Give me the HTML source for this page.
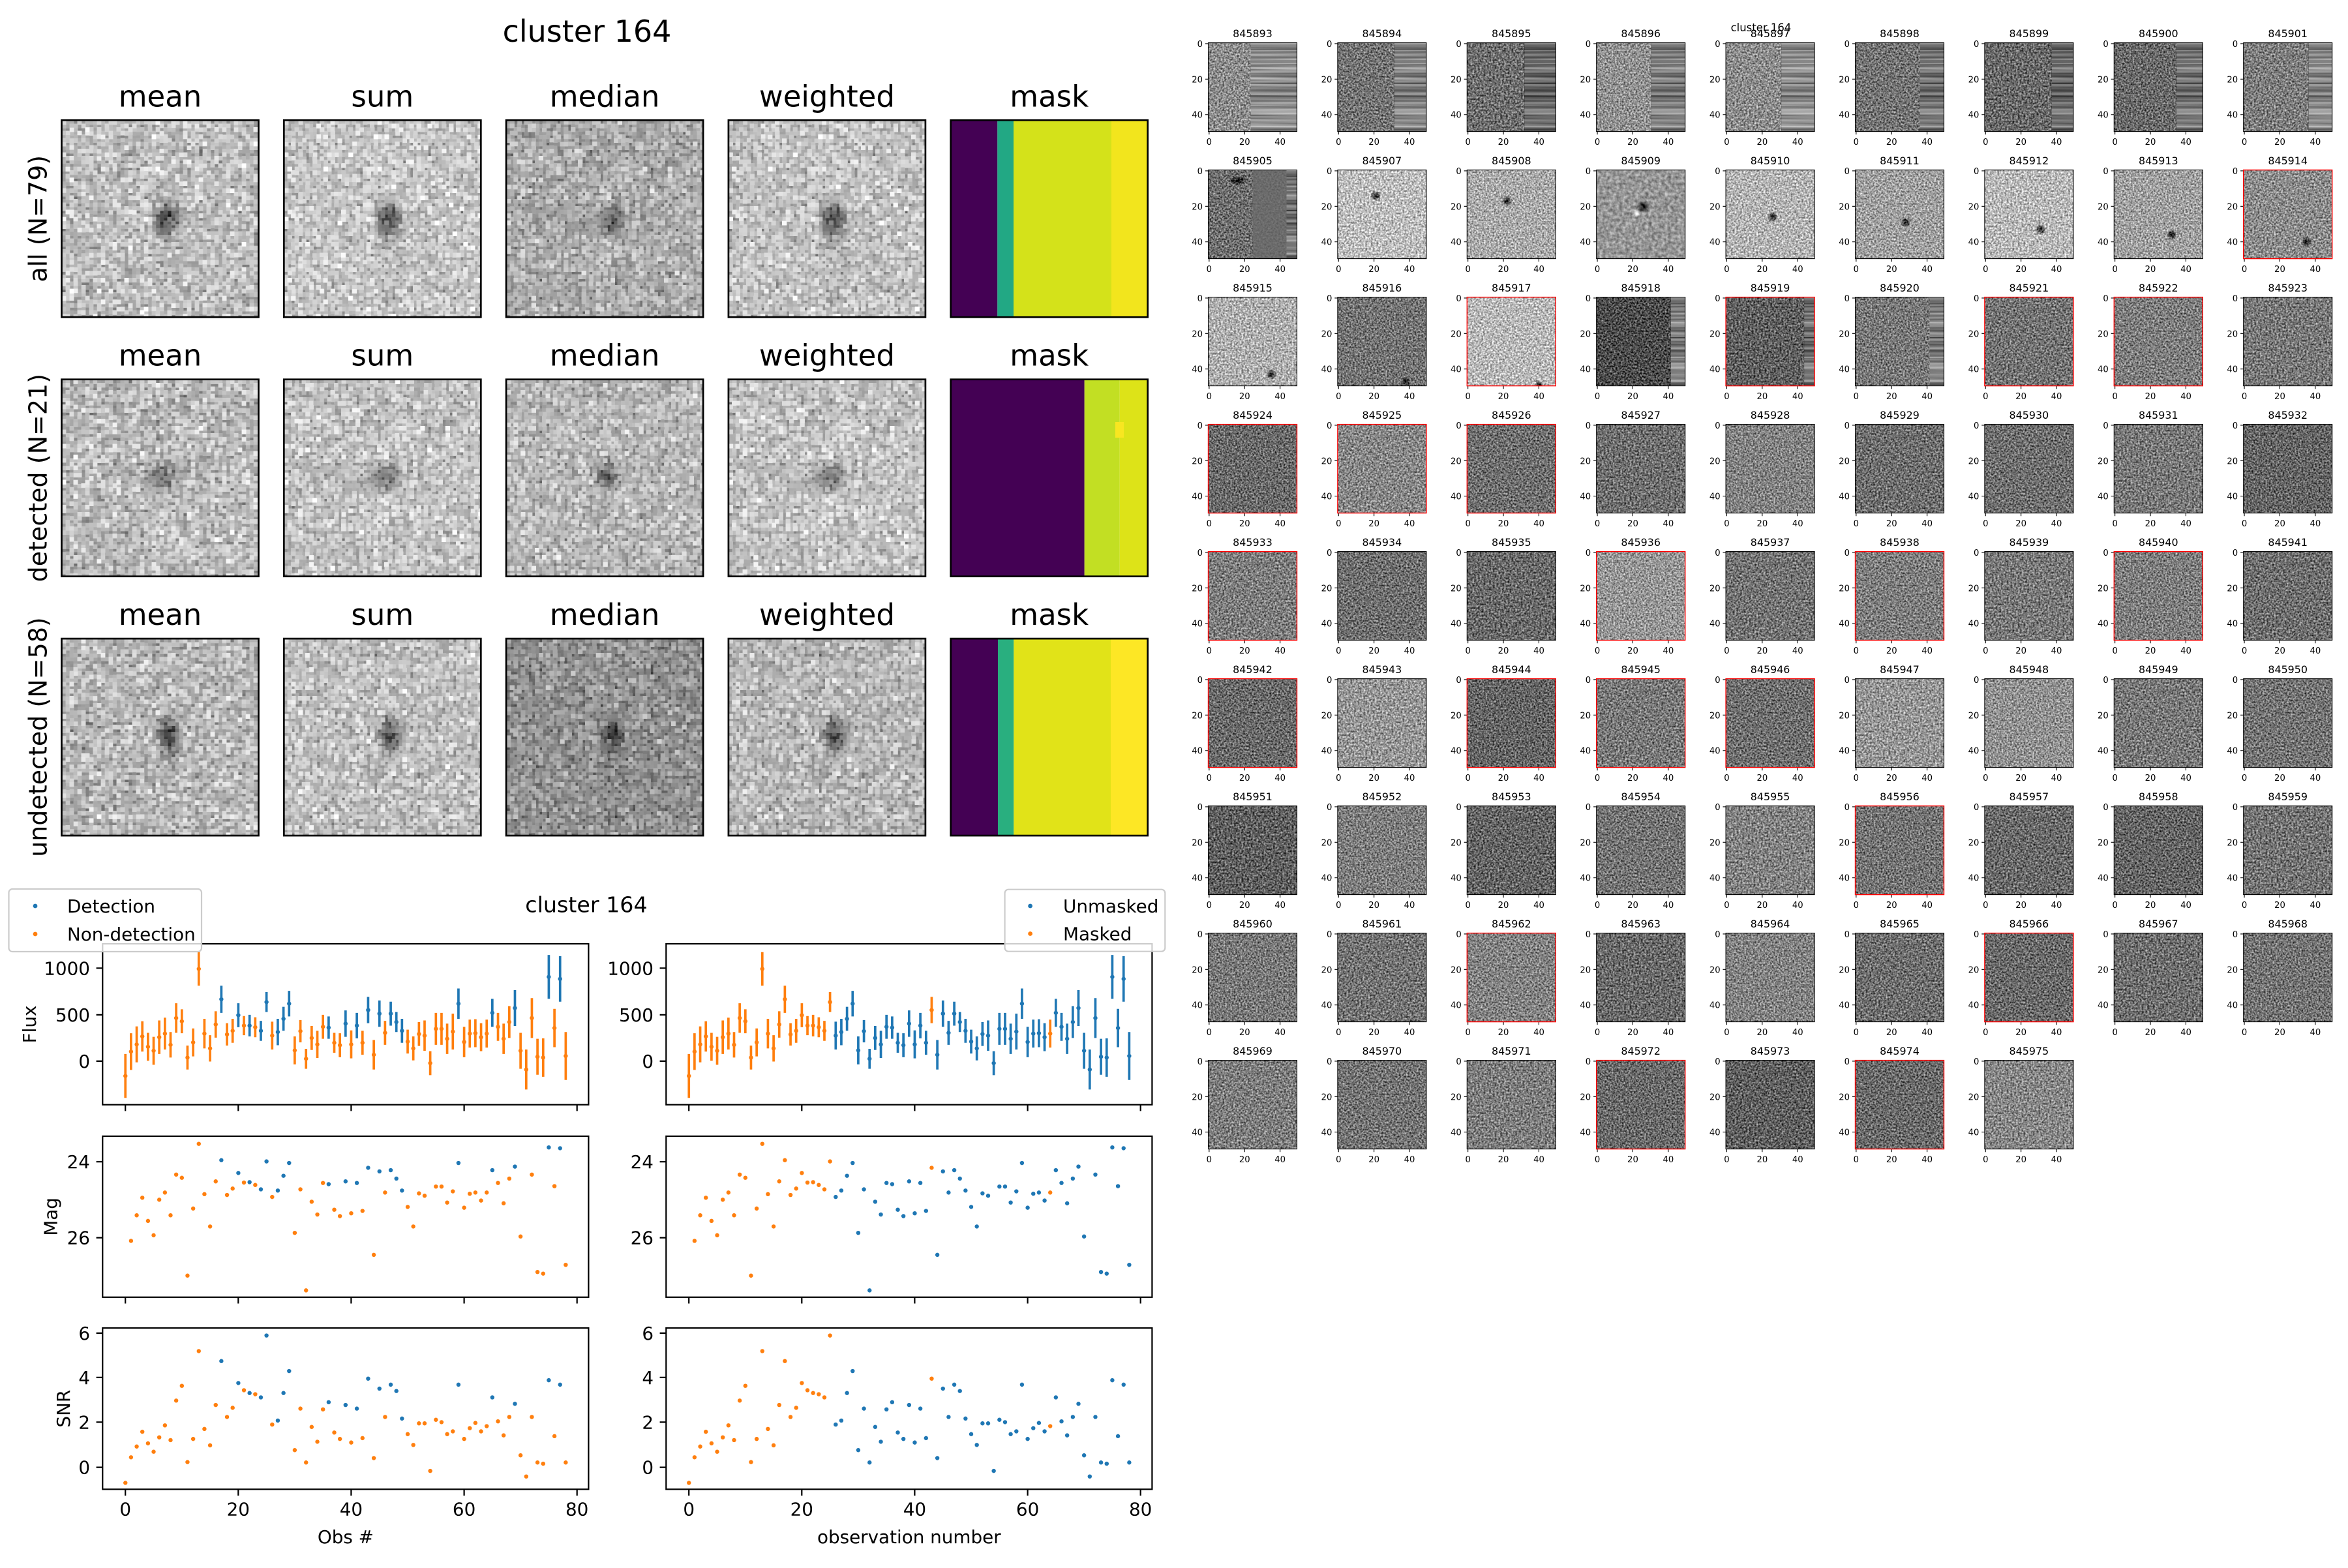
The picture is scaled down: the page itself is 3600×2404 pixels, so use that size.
<!DOCTYPE html>
<html><head><meta charset="utf-8"><style>
html,body{margin:0;padding:0;background:#fff}
svg{display:block}
text{font-family:"DejaVu Sans","Liberation Sans",sans-serif;fill:#000}
.fr{fill:none;stroke:#000;stroke-width:1.1}
.fr.r{stroke:#f00;stroke-width:1.4}
.tt{font-size:15.9px;text-anchor:middle}
.pf{fill:none;stroke:#000;stroke-width:2.7}
.ht{font-size:45px;text-anchor:middle}
.rl{font-size:38px;text-anchor:middle}
.tk{font-size:27.8px}
.dt{stroke-width:10.5;stroke-linecap:round}
.ax{fill:none;stroke:#000;stroke-width:2.2}
</style></head><body>
<svg width="3600" height="2404" viewBox="0 0 3600 2404" xmlns="http://www.w3.org/2000/svg">
<defs>
<radialGradient id="bl"><stop offset="0" stop-color="#000" stop-opacity=".8"/><stop offset=".45" stop-color="#000" stop-opacity=".45"/><stop offset="1" stop-color="#000" stop-opacity="0"/></radialGradient>
<radialGradient id="sp"><stop offset="0" stop-color="#000" stop-opacity=".9"/><stop offset=".6" stop-color="#000" stop-opacity=".5"/><stop offset="1" stop-color="#000" stop-opacity="0"/></radialGradient>
<radialGradient id="wsp"><stop offset="0" stop-color="#fff" stop-opacity=".9"/><stop offset="1" stop-color="#fff" stop-opacity="0"/></radialGradient>
<filter id="t1" filterUnits="userSpaceOnUse" x="0" y="0" width="136" height="136" color-interpolation-filters="sRGB"><feTurbulence type="fractalNoise" baseFrequency="0.36" numOctaves="2" seed="1" result="a"/><feColorMatrix in="a" type="matrix" values="1 0 0 0 0 1 0 0 0 0 1 0 0 0 0 0 0 0 0 1" result="g"/><feComposite in="SourceGraphic" in2="g" operator="arithmetic" k1="0" k2="1" k3="1.05" k4="-0.525"/></filter>
<filter id="t2" filterUnits="userSpaceOnUse" x="0" y="0" width="136" height="136" color-interpolation-filters="sRGB"><feTurbulence type="fractalNoise" baseFrequency="0.37" numOctaves="2" seed="7" result="a"/><feColorMatrix in="a" type="matrix" values="1 0 0 0 0 1 0 0 0 0 1 0 0 0 0 0 0 0 0 1" result="g"/><feComposite in="SourceGraphic" in2="g" operator="arithmetic" k1="0" k2="1" k3="1.05" k4="-0.525"/></filter>
<filter id="t3" filterUnits="userSpaceOnUse" x="0" y="0" width="136" height="136" color-interpolation-filters="sRGB"><feTurbulence type="fractalNoise" baseFrequency="0.35" numOctaves="2" seed="13" result="a"/><feColorMatrix in="a" type="matrix" values="1 0 0 0 0 1 0 0 0 0 1 0 0 0 0 0 0 0 0 1" result="g"/><feComposite in="SourceGraphic" in2="g" operator="arithmetic" k1="0" k2="1" k3="1.05" k4="-0.525"/></filter>
<filter id="t4" filterUnits="userSpaceOnUse" x="0" y="0" width="136" height="136" color-interpolation-filters="sRGB"><feTurbulence type="fractalNoise" baseFrequency="0.38" numOctaves="2" seed="29" result="a"/><feColorMatrix in="a" type="matrix" values="1 0 0 0 0 1 0 0 0 0 1 0 0 0 0 0 0 0 0 1" result="g"/><feComposite in="SourceGraphic" in2="g" operator="arithmetic" k1="0" k2="1" k3="1.05" k4="-0.525"/></filter>
<filter id="ts" filterUnits="userSpaceOnUse" x="0" y="0" width="136" height="136" color-interpolation-filters="sRGB"><feTurbulence type="fractalNoise" baseFrequency="0.2" numOctaves="2" seed="3" result="a"/><feColorMatrix in="a" type="matrix" values="1 0 0 0 0 1 0 0 0 0 1 0 0 0 0 0 0 0 0 1" result="g"/><feComposite in="SourceGraphic" in2="g" operator="arithmetic" k1="0" k2="1" k3="0.6" k4="-0.3"/></filter>
<filter id="st" x="0" y="0" width="1" height="1" color-interpolation-filters="sRGB"><feTurbulence type="fractalNoise" baseFrequency="0.004 0.3" numOctaves="2" seed="5" result="a"/><feColorMatrix in="a" type="matrix" values="1 0 0 0 0 1 0 0 0 0 1 0 0 0 0 0 0 0 0 1" result="g"/><feComposite in="SourceGraphic" in2="g" operator="arithmetic" k1="0" k2="1" k3="0.75" k4="-0.375"/></filter>
<filter id="p1" filterUnits="userSpaceOnUse" primitiveUnits="userSpaceOnUse" x="0" y="0" width="302" height="302" color-interpolation-filters="sRGB"><feTurbulence type="fractalNoise" baseFrequency="0.2873" numOctaves="2" seed="11" result="a"/><feColorMatrix in="a" type="matrix" values="1 0 0 0 0 1 0 0 0 0 1 0 0 0 0 0 0 0 0 1" result="g"/><feComposite in="SourceGraphic" in2="g" operator="arithmetic" k1="0" k2="1" k3="0.95" k4="-0.475" result="n"/><feFlood x="3" y="3" width="1" height="1" flood-color="#000" result="f"/><feComposite in="f" in2="f" x="0" y="0" width="6" height="6" result="c"/><feTile in="c" result="tl"/><feComposite in="n" in2="tl" operator="in" result="s"/><feMorphology in="s" operator="dilate" radius="3"/></filter>
<filter id="p2" filterUnits="userSpaceOnUse" primitiveUnits="userSpaceOnUse" x="0" y="0" width="302" height="302" color-interpolation-filters="sRGB"><feTurbulence type="fractalNoise" baseFrequency="0.2873" numOctaves="2" seed="23" result="a"/><feColorMatrix in="a" type="matrix" values="1 0 0 0 0 1 0 0 0 0 1 0 0 0 0 0 0 0 0 1" result="g"/><feComposite in="SourceGraphic" in2="g" operator="arithmetic" k1="0" k2="1" k3="0.95" k4="-0.475" result="n"/><feFlood x="3" y="3" width="1" height="1" flood-color="#000" result="f"/><feComposite in="f" in2="f" x="0" y="0" width="6" height="6" result="c"/><feTile in="c" result="tl"/><feComposite in="n" in2="tl" operator="in" result="s"/><feMorphology in="s" operator="dilate" radius="3"/></filter>
<filter id="p3" filterUnits="userSpaceOnUse" primitiveUnits="userSpaceOnUse" x="0" y="0" width="302" height="302" color-interpolation-filters="sRGB"><feTurbulence type="fractalNoise" baseFrequency="0.2873" numOctaves="2" seed="41" result="a"/><feColorMatrix in="a" type="matrix" values="1 0 0 0 0 1 0 0 0 0 1 0 0 0 0 0 0 0 0 1" result="g"/><feComposite in="SourceGraphic" in2="g" operator="arithmetic" k1="0" k2="1" k3="0.95" k4="-0.475" result="n"/><feFlood x="3" y="3" width="1" height="1" flood-color="#000" result="f"/><feComposite in="f" in2="f" x="0" y="0" width="6" height="6" result="c"/><feTile in="c" result="tl"/><feComposite in="n" in2="tl" operator="in" result="s"/><feMorphology in="s" operator="dilate" radius="3"/></filter>

<g id="tax">
<path d="M0 1.36h-4.6M0 55.76h-4.6M0 110.16h-4.6M1.36 136v4.6M55.76 136v4.6M110.16 136v4.6" stroke="#000" stroke-width="1.1"/>
<g font-size="13.2" text-anchor="end"><text x="-8.5" y="6.3">0</text><text x="-8.5" y="60.7">20</text><text x="-8.5" y="115.1">40</text></g>
<g font-size="13.2" text-anchor="middle"><text x="1.36" y="156.4">0</text><text x="55.76" y="156.4">20</text><text x="110.16" y="156.4">40</text></g>
</g>

<g id="NM" fill="none">
<path stroke-width="6" d="M314 418V528M328.1 366V458M342.3 349V439M356.4 336V412M370.6 365V435M384.7 375V445M398.8 334V418M413 327V407M427.1 363V427M441.2 291V365M455.4 306V366M469.5 397V457M483.7 354V424M497.8 163V247M511.9 330V404M526.1 371V437M540.2 311V377M568.5 341V397M582.6 330V390M610.9 323V371M639.2 326V376M1218.8 332V402"/>
<path class="dt" d="M314 473h.01M328.1 412h.01M342.3 394h.01M356.4 374h.01M370.6 400h.01M384.7 410h.01M398.8 376h.01M413 367h.01M427.1 395h.01M441.2 328h.01M455.4 336h.01M469.5 427h.01M483.7 389h.01M497.8 205h.01M511.9 367h.01M526.1 404h.01M540.2 344h.01M568.5 369h.01M582.6 360h.01M610.9 347h.01M639.2 351h.01M1218.8 367h.01
M328.1 886h.01M342.3 822h.01M356.4 778h.01M370.6 836h.01M384.7 872h.01M398.8 783h.01M413 765h.01M427.1 822h.01M441.2 720h.01M455.4 728h.01M469.5 973h.01M483.7 805h.01M497.8 643h.01M511.9 769h.01M526.1 850h.01M540.2 737h.01M568.5 771h.01M582.6 755h.01M610.9 740h.01M639.2 746h.01M1218.8 765h.01
M314 1492h.01M328.1 1428h.01M342.3 1401h.01M356.4 1364h.01M370.6 1393h.01M384.7 1414h.01M398.8 1378h.01M413 1348h.01M427.1 1385h.01M441.2 1286h.01M455.4 1249h.01M469.5 1440h.01M483.7 1382h.01M497.8 1162h.01M511.9 1357h.01M526.1 1398h.01M540.2 1297h.01M568.5 1327h.01M582.6 1304h.01M610.9 1260h.01M639.2 1270h.01M1218.8 1350h.01"/>
</g>
<g id="DM" fill="none">
<path stroke-width="6" d="M554.3 247V315M596.8 291V351M625 320V374M653.3 335V385M667.4 263V313M921.9 275V341"/>
<path class="dt" d="M554.3 281h.01M596.8 321h.01M625 347h.01M653.3 360h.01M667.4 288h.01M921.9 308h.01
M554.3 684h.01M596.8 716h.01M625 739h.01M653.3 757h.01M667.4 687h.01M921.9 703h.01
M554.3 1187h.01M596.8 1242h.01M625 1267h.01M653.3 1278h.01M667.4 1123h.01M921.9 1231h.01"/>
</g>
<g id="DU" fill="none">
<path stroke-width="6" d="M695.7 330V396M709.9 300V360M724 260V324M823 324V380M865.4 309V375M893.6 315V379M950.2 284V350M978.5 287V347M992.6 313V363M1006.7 330V390M1148.1 254V330M1232.9 280V350M1289.5 258V348M1374.3 170V280M1402.6 173V287"/>
<path class="dt" d="M695.7 363h.01M709.9 330h.01M724 292h.01M823 352h.01M865.4 342h.01M893.6 347h.01M950.2 317h.01M978.5 317h.01M992.6 338h.01M1006.7 360h.01M1148.1 292h.01M1232.9 315h.01M1289.5 303h.01M1374.3 225h.01M1402.6 230h.01
M695.7 760h.01M709.9 723h.01M724 691h.01M823 744h.01M865.4 737h.01M893.6 741h.01M950.2 712h.01M978.5 709h.01M992.6 730h.01M1006.7 760h.01M1148.1 691h.01M1232.9 709h.01M1289.5 700h.01M1374.3 652h.01M1402.6 654h.01
M695.7 1336h.01M709.9 1267h.01M724 1212h.01M823 1290h.01M865.4 1297h.01M893.6 1306h.01M950.2 1256h.01M978.5 1246h.01M992.6 1262h.01M1006.7 1331h.01M1148.1 1246h.01M1232.9 1278h.01M1289.5 1294h.01M1374.3 1235h.01M1402.6 1246h.01"/>
</g>
<g id="NU" fill="none">
<path stroke-width="6" d="M681.6 337V407M738.1 374V444M752.3 333V389M766.4 405V455M780.5 348V408M794.7 360V428M808.8 320V380M837.1 365V415M851.2 366V426M879.5 359V429M907.8 360V420M936.1 383V457M964.3 335V395M1020.9 357V417M1035 374V434M1049.2 338V398M1063.3 334V410M1077.4 411V471M1091.6 315V395M1105.7 315V395M1119.8 342V418M1134 317V407M1162.3 350V426M1176.4 332V402M1190.5 331V401M1204.7 341V411M1247.1 315V385M1261.2 342V418M1275.4 298V378M1303.6 365V455M1317.8 407V507M1331.9 278V378M1346 380V470M1360.2 379V475M1388.5 305V401M1416.7 363V483"/>
<path class="dt" d="M681.6 372h.01M738.1 409h.01M752.3 361h.01M766.4 430h.01M780.5 378h.01M794.7 394h.01M808.8 350h.01M837.1 390h.01M851.2 396h.01M879.5 394h.01M907.8 390h.01M936.1 420h.01M964.3 365h.01M1020.9 387h.01M1035 404h.01M1049.2 368h.01M1063.3 372h.01M1077.4 441h.01M1091.6 355h.01M1105.7 355h.01M1119.8 380h.01M1134 362h.01M1162.3 388h.01M1176.4 367h.01M1190.5 366h.01M1204.7 376h.01M1247.1 350h.01M1261.2 380h.01M1275.4 338h.01M1303.6 410h.01M1317.8 457h.01M1331.9 328h.01M1346 425h.01M1360.2 427h.01M1388.5 353h.01M1416.7 423h.01
M681.6 776h.01M738.1 866h.01M752.3 757h.01M766.4 1010h.01M780.5 788h.01M794.7 820h.01M808.8 741h.01M837.1 808h.01M851.2 824h.01M879.5 817h.01M907.8 811h.01M936.1 921h.01M964.3 765h.01M1020.9 801h.01M1035 850h.01M1049.2 767h.01M1063.3 773h.01M1091.6 750h.01M1105.7 750h.01M1119.8 790h.01M1134 762h.01M1162.3 803h.01M1176.4 768h.01M1190.5 765h.01M1204.7 785h.01M1247.1 741h.01M1261.2 792h.01M1275.4 730h.01M1303.6 875h.01M1331.9 720h.01M1346 964h.01M1360.2 968h.01M1388.5 749h.01M1416.7 946h.01
M681.6 1346h.01M738.1 1410h.01M752.3 1306h.01M766.4 1441h.01M780.5 1352h.01M794.7 1389h.01M808.8 1308h.01M837.1 1366h.01M851.2 1382h.01M879.5 1391h.01M907.8 1380h.01M936.1 1430h.01M964.3 1327h.01M1020.9 1370h.01M1035 1397h.01M1049.2 1343h.01M1063.3 1343h.01M1077.4 1462h.01M1091.6 1334h.01M1105.7 1340h.01M1119.8 1370h.01M1134 1363h.01M1162.3 1382h.01M1176.4 1355h.01M1190.5 1342h.01M1204.7 1363h.01M1247.1 1338h.01M1261.2 1373h.01M1275.4 1327h.01M1303.6 1423h.01M1317.8 1476h.01M1331.9 1327h.01M1346 1441h.01M1360.2 1444h.01M1388.5 1375h.01M1416.7 1441h.01"/>
</g>

<g id="axset">
<rect class="ax" x="157.3" y="1447" width="745.1" height="246.7"/>
<rect class="ax" x="157.3" y="1742" width="745.1" height="246.8"/>
<rect class="ax" x="157.3" y="2036" width="745.1" height="247.3"/>
<path class="ax" d="M157.3 1484.3h-9.7M157.3 1555.9h-9.7M157.3 1626.9h-9.7M157.3 1781.2h-9.7M157.3 1897.6h-9.7M157.3 2043.9h-9.7M157.3 2111.9h-9.7M157.3 2180.4h-9.7M157.3 2249.6h-9.7
M192.2 1693.7v9.7M365.3 1693.7v9.7M538.4 1693.7v9.7M711.6 1693.7v9.7M884.7 1693.7v9.7
M192.2 1988.8v9.7M365.3 1988.8v9.7M538.4 1988.8v9.7M711.6 1988.8v9.7M884.7 1988.8v9.7
M192.2 2283.3v9.7M365.3 2283.3v9.7M538.4 2283.3v9.7M711.6 2283.3v9.7M884.7 2283.3v9.7"/>
<g class="tk" text-anchor="end">
<text x="138" y="1494.3">1000</text><text x="138" y="1565.9">500</text><text x="138" y="1636.9">0</text>
<text x="138" y="1791.2">24</text><text x="138" y="1907.6">26</text>
<text x="138" y="2053.9">6</text><text x="138" y="2121.9">4</text><text x="138" y="2190.4">2</text><text x="138" y="2259.6">0</text>
</g>
<g class="tk" text-anchor="middle">
<text x="192.2" y="2323.3">0</text><text x="365.3" y="2323.3">20</text><text x="538.4" y="2323.3">40</text><text x="711.6" y="2323.3">60</text><text x="884.7" y="2323.3">80</text>
</g>
</g>
</defs>

<!-- ===== Top-left image grid ===== -->
<text x="900" y="64" class="ht" style="font-size:46px">cluster 164</text>
<g class="ht">
<text x="245.5" y="163.3">mean</text><text x="586.3" y="163.3">sum</text><text x="927.1" y="163.3">median</text><text x="1267.9" y="163.3">weighted</text><text x="1608.7" y="163.3">mask</text>
<text x="245.5" y="560.7">mean</text><text x="586.3" y="560.7">sum</text><text x="927.1" y="560.7">median</text><text x="1267.9" y="560.7">weighted</text><text x="1608.7" y="560.7">mask</text>
<text x="245.5" y="958.1">mean</text><text x="586.3" y="958.1">sum</text><text x="927.1" y="958.1">median</text><text x="1267.9" y="958.1">weighted</text><text x="1608.7" y="958.1">mask</text>
</g>
<text class="rl" transform="translate(71.5,335.3) rotate(-90)">all (N=79)</text>
<text class="rl" transform="translate(71.5,732.7) rotate(-90)">detected (N=21)</text>
<text class="rl" transform="translate(71.5,1130.1) rotate(-90)">undetected (N=58)</text>

<!-- row 1 -->
<g transform="translate(94.5,184.3)"><rect width="302" height="302" fill="#a8a8a8"/><g filter="url(#p1)"><rect width="302" height="302" fill="#a8a8a8"/><ellipse cx="161" cy="153" rx="28" ry="40" fill="url(#bl)"/></g><rect width="302" height="302" class="pf"/></g>
<g transform="translate(435.3,184.3)"><rect width="302" height="302" fill="#a8a8a8"/><g filter="url(#p1)"><rect width="302" height="302" fill="#a8a8a8"/><ellipse cx="161" cy="153" rx="28" ry="40" fill="url(#bl)"/></g><rect width="302" height="302" class="pf"/></g>
<g transform="translate(776.1,184.3)"><rect width="302" height="302" fill="#8e8e8e"/><g filter="url(#p2)"><rect width="302" height="302" fill="#8e8e8e"/><ellipse cx="161" cy="153" rx="26" ry="36" fill="url(#bl)" opacity=".8"/></g><rect width="302" height="302" class="pf"/></g>
<g transform="translate(1116.9,184.3)"><rect width="302" height="302" fill="#a4a4a4"/><g filter="url(#p1)"><rect width="302" height="302" fill="#a4a4a4"/><ellipse cx="161" cy="153" rx="28" ry="40" fill="url(#bl)"/></g><rect width="302" height="302" class="pf"/></g>
<g transform="translate(1457.7,184.3)"><rect width="71.6" height="302" fill="#440154"/><rect x="71.6" width="24.7" height="302" fill="#22a884"/><rect x="96.3" width="150" height="302" fill="#d4e21a"/><rect x="246.3" width="55.7" height="302" fill="#f2e51d"/><rect width="302" height="302" class="pf"/></g>
<!-- row 2 -->
<g transform="translate(94.5,581.7)"><rect width="302" height="302" fill="#a4a4a4"/><g filter="url(#p2)"><rect width="302" height="302" fill="#a4a4a4"/><ellipse cx="155" cy="148" rx="30" ry="32" fill="url(#bl)" opacity=".75"/></g><rect width="302" height="302" class="pf"/></g>
<g transform="translate(435.3,581.7)"><rect width="302" height="302" fill="#a4a4a4"/><g filter="url(#p2)"><rect width="302" height="302" fill="#a4a4a4"/><ellipse cx="155" cy="148" rx="30" ry="32" fill="url(#bl)" opacity=".75"/></g><rect width="302" height="302" class="pf"/></g>
<g transform="translate(776.1,581.7)"><rect width="302" height="302" fill="#9a9a9a"/><g filter="url(#p3)"><rect width="302" height="302" fill="#9a9a9a"/><ellipse cx="155" cy="150" rx="28" ry="32" fill="url(#bl)" opacity=".75"/></g><rect width="302" height="302" class="pf"/></g>
<g transform="translate(1116.9,581.7)"><rect width="302" height="302" fill="#a4a4a4"/><g filter="url(#p2)"><rect width="302" height="302" fill="#a4a4a4"/><ellipse cx="155" cy="148" rx="30" ry="32" fill="url(#bl)" opacity=".75"/></g><rect width="302" height="302" class="pf"/></g>
<g transform="translate(1457.7,581.7)"><rect width="205" height="302" fill="#440154"/><rect x="205" width="54" height="302" fill="#c2df23"/><rect x="259" width="43" height="302" fill="#dde318"/><rect x="252.3" y="65.3" width="13" height="24" fill="#f8e621"/><rect width="302" height="302" class="pf"/></g>
<!-- row 3 -->
<g transform="translate(94.5,979.1)"><rect width="302" height="302" fill="#a2a2a2"/><g filter="url(#p3)"><rect width="302" height="302" fill="#a2a2a2"/><ellipse cx="164" cy="150" rx="24" ry="44" fill="url(#bl)"/></g><rect width="302" height="302" class="pf"/></g>
<g transform="translate(435.3,979.1)"><rect width="302" height="302" fill="#a2a2a2"/><g filter="url(#p3)"><rect width="302" height="302" fill="#a2a2a2"/><ellipse cx="164" cy="150" rx="24" ry="44" fill="url(#bl)"/></g><rect width="302" height="302" class="pf"/></g>
<g transform="translate(776.1,979.1)"><rect width="302" height="302" fill="#747474"/><g filter="url(#p1)"><rect width="302" height="302" fill="#747474"/><ellipse cx="164" cy="150" rx="22" ry="40" fill="url(#bl)"/></g><rect width="302" height="302" class="pf"/></g>
<g transform="translate(1116.9,979.1)"><rect width="302" height="302" fill="#9a9a9a"/><g filter="url(#p3)"><rect width="302" height="302" fill="#9a9a9a"/><ellipse cx="164" cy="150" rx="24" ry="44" fill="url(#bl)"/></g><rect width="302" height="302" class="pf"/></g>
<g transform="translate(1457.7,979.1)"><rect width="72.3" height="302" fill="#440154"/><rect x="72.3" width="24.3" height="302" fill="#29af7f"/><rect x="96.6" width="148.7" height="302" fill="#e1e318"/><rect x="245.3" width="56.7" height="302" fill="#fde725"/><rect width="302" height="302" class="pf"/></g>

<!-- ===== Bottom-left plots ===== -->
<text x="899" y="1398.5" text-anchor="middle" style="font-size:33.3px">cluster 164</text>
<use href="#axset"/>
<use href="#axset" transform="translate(864,0)"/>
<g transform="translate(0,1360) scale(0.612245)">
<use href="#DM" stroke="#1f77b4"/><use href="#DU" stroke="#1f77b4"/><use href="#NM" stroke="#ff7f0e"/><use href="#NU" stroke="#ff7f0e"/>
</g>
<g transform="translate(864,1360) scale(0.612245)">
<use href="#DU" stroke="#1f77b4"/><use href="#NU" stroke="#1f77b4"/><use href="#DM" stroke="#ff7f0e"/><use href="#NM" stroke="#ff7f0e"/>
</g>
<text class="tk" text-anchor="middle" transform="translate(55,1570.5) rotate(-90)">Flux</text>
<text class="tk" text-anchor="middle" transform="translate(87.5,1865.4) rotate(-90)">Mag</text>
<text class="tk" text-anchor="middle" transform="translate(107,2159.7) rotate(-90)">SNR</text>
<text class="tk" x="529.9" y="2366" text-anchor="middle">Obs #</text>
<text class="tk" x="1393.8" y="2366" text-anchor="middle">observation number</text>
<!-- legends -->
<rect x="13.5" y="1363" width="295.5" height="96" rx="5.5" fill="#fff" fill-opacity=".8" stroke="#ccc" stroke-width="2.2"/>
<circle cx="54" cy="1389" r="3.4" fill="#1f77b4"/><circle cx="54" cy="1432" r="3.4" fill="#ff7f0e"/>
<text class="tk" x="103" y="1399">Detection</text><text class="tk" x="103" y="1442">Non-detection</text>
<rect x="1540.6" y="1363.7" width="245.7" height="95" rx="5.5" fill="#fff" fill-opacity=".8" stroke="#ccc" stroke-width="2.2"/>
<circle cx="1579.6" cy="1389" r="3.4" fill="#1f77b4"/><circle cx="1579.6" cy="1431.5" r="3.4" fill="#ff7f0e"/>
<text class="tk" x="1630" y="1399">Unmasked</text><text class="tk" x="1630" y="1441.5">Masked</text>

<!-- ===== Right thumbnail grid ===== -->
<text x="2700" y="48" text-anchor="middle" style="font-size:16.5px">cluster 164</text>
<!-- row 1 -->
<g transform="translate(1852.5,65.6)"><rect width="136" height="136" fill="#8c8c8c" filter="url(#t1)"/><rect x="65" width="71" height="136" fill="#878787" filter="url(#st)"/><use href="#tax"/><rect class="fr" width="136" height="136"/><text class="tt" x="68" y="-8.8">845893</text></g>
<g transform="translate(2050.9,65.6)"><rect width="136" height="136" fill="#737373" filter="url(#t2)"/><rect x="87" width="49" height="136" fill="#7d7d7d" filter="url(#st)"/><use href="#tax"/><rect class="fr" width="136" height="136"/><text class="tt" x="68" y="-8.8">845894</text></g>
<g transform="translate(2249.3,65.6)"><rect width="136" height="136" fill="#6e6e6e" filter="url(#t3)"/><rect x="88" width="48" height="136" fill="#646464" filter="url(#st)"/><use href="#tax"/><rect class="fr" width="136" height="136"/><text class="tt" x="68" y="-8.8">845895</text></g>
<g transform="translate(2447.7,65.6)"><rect width="136" height="136" fill="#919191" filter="url(#t4)"/><rect x="84" width="52" height="136" fill="#787878" filter="url(#st)"/><use href="#tax"/><rect class="fr" width="136" height="136"/><text class="tt" x="68" y="-8.8">845896</text></g>
<g transform="translate(2646.1,65.6)"><rect width="136" height="136" fill="#8c8c8c" filter="url(#t1)"/><rect x="85" width="51" height="136" fill="#878787" filter="url(#st)"/><use href="#tax"/><rect class="fr" width="136" height="136"/><text class="tt" x="68" y="-8.8">845897</text></g>
<g transform="translate(2844.5,65.6)"><rect width="136" height="136" fill="#737373" filter="url(#t2)"/><rect x="99" width="37" height="136" fill="#6e6e6e" filter="url(#st)"/><use href="#tax"/><rect class="fr" width="136" height="136"/><text class="tt" x="68" y="-8.8">845898</text></g>
<g transform="translate(3042.9,65.6)"><rect width="136" height="136" fill="#696969" filter="url(#t3)"/><rect x="103" width="33" height="136" fill="#646464" filter="url(#st)"/><use href="#tax"/><rect class="fr" width="136" height="136"/><text class="tt" x="68" y="-8.8">845899</text></g>
<g transform="translate(3241.3,65.6)"><rect width="136" height="136" fill="#696969" filter="url(#t4)"/><rect x="96" width="40" height="136" fill="#6e6e6e" filter="url(#st)"/><use href="#tax"/><rect class="fr" width="136" height="136"/><text class="tt" x="68" y="-8.8">845900</text></g>
<g transform="translate(3439.7,65.6)"><rect width="136" height="136" fill="#7d7d7d" filter="url(#t1)"/><rect x="100" width="36" height="136" fill="#828282" filter="url(#st)"/><use href="#tax"/><rect class="fr" width="136" height="136"/><text class="tt" x="68" y="-8.8">845901</text></g>
<!-- row 2 -->
<g transform="translate(1852.5,260.6)"><g filter="url(#t2)"><rect width="136" height="136" fill="#6e6e6e"/><ellipse cx="45" cy="16" rx="15" ry="7" fill="url(#sp)"/></g><rect x="68" width="54" height="136" fill="#6a6a6a" opacity=".8"/><rect x="120" width="16" height="136" fill="#707070" filter="url(#st)"/><use href="#tax"/><rect class="fr" width="136" height="136"/><text class="tt" x="68" y="-8.8">845905</text></g>
<g transform="translate(2050.9,260.6)"><g filter="url(#t3)"><rect width="136" height="136" fill="#bebebe"/><circle cx="58.5" cy="39.4" r="8" fill="url(#sp)"/></g><use href="#tax"/><rect class="fr" width="136" height="136"/><text class="tt" x="68" y="-8.8">845907</text></g>
<g transform="translate(2249.3,260.6)"><g filter="url(#t4)"><rect width="136" height="136" fill="#aaaaaa"/><circle cx="61.2" cy="47.6" r="8" fill="url(#sp)"/></g><use href="#tax"/><rect class="fr" width="136" height="136"/><text class="tt" x="68" y="-8.8">845908</text></g>
<g transform="translate(2447.7,260.6)"><g filter="url(#ts)"><rect width="136" height="136" fill="#969696"/><circle cx="61" cy="66.6" r="7" fill="url(#wsp)"/><circle cx="72" cy="55.8" r="10" fill="url(#sp)"/></g><use href="#tax"/><rect class="fr" width="136" height="136"/><text class="tt" x="68" y="-8.8">845909</text></g>
<g transform="translate(2646.1,260.6)"><g filter="url(#t1)"><rect width="136" height="136" fill="#b4b4b4"/><circle cx="72" cy="72" r="8" fill="url(#sp)"/></g><use href="#tax"/><rect class="fr" width="136" height="136"/><text class="tt" x="68" y="-8.8">845910</text></g>
<g transform="translate(2844.5,260.6)"><g filter="url(#t2)"><rect width="136" height="136" fill="#a0a0a0"/><circle cx="77.5" cy="80.2" r="8" fill="url(#sp)"/></g><use href="#tax"/><rect class="fr" width="136" height="136"/><text class="tt" x="68" y="-8.8">845911</text></g>
<g transform="translate(3042.9,260.6)"><g filter="url(#t3)"><rect width="136" height="136" fill="#b9b9b9"/><circle cx="85.7" cy="91.1" r="8" fill="url(#sp)"/></g><use href="#tax"/><rect class="fr" width="136" height="136"/><text class="tt" x="68" y="-8.8">845912</text></g>
<g transform="translate(3241.3,260.6)"><g filter="url(#t4)"><rect width="136" height="136" fill="#a0a0a0"/><circle cx="88.4" cy="99.3" r="8" fill="url(#sp)"/></g><use href="#tax"/><rect class="fr" width="136" height="136"/><text class="tt" x="68" y="-8.8">845913</text></g>
<g transform="translate(3439.7,260.6)"><g filter="url(#t1)"><rect width="136" height="136" fill="#8c8c8c"/><circle cx="96.6" cy="110.2" r="8" fill="url(#sp)"/></g><use href="#tax"/><rect class="fr r" width="136" height="136"/><text class="tt" x="68" y="-8.8">845914</text></g>
<!-- row 3 -->
<g transform="translate(1852.5,455.6)"><g filter="url(#t3)"><rect width="136" height="136" fill="#afafaf"/><circle cx="96.6" cy="118.3" r="8" fill="url(#sp)"/></g><use href="#tax"/><rect class="fr" width="136" height="136"/><text class="tt" x="68" y="-8.8">845915</text></g>
<g transform="translate(2050.9,455.6)"><g filter="url(#t4)"><rect width="136" height="136" fill="#737373"/><circle cx="104.7" cy="129.2" r="7" fill="url(#sp)"/></g><use href="#tax"/><rect class="fr" width="136" height="136"/><text class="tt" x="68" y="-8.8">845916</text></g>
<g transform="translate(2249.3,455.6)"><g filter="url(#t1)"><rect width="136" height="136" fill="#b9b9b9"/><circle cx="110" cy="134" r="6" fill="url(#sp)"/></g><use href="#tax"/><rect class="fr r" width="136" height="136"/><text class="tt" x="68" y="-8.8">845917</text></g>
<g transform="translate(2447.7,455.6)"><rect width="136" height="136" fill="#4b4b4b" filter="url(#t2)"/><rect x="114" width="22" height="136" fill="#7a7a7a" filter="url(#st)"/><use href="#tax"/><rect class="fr" width="136" height="136"/><text class="tt" x="68" y="-8.8">845918</text></g>
<g transform="translate(2646.1,455.6)"><rect width="136" height="136" fill="#5f5f5f" filter="url(#t3)"/><rect x="120" width="16" height="136" fill="#6c6c6c" filter="url(#st)"/><use href="#tax"/><rect class="fr r" width="136" height="136"/><text class="tt" x="68" y="-8.8">845919</text></g>
<g transform="translate(2844.5,455.6)"><rect width="136" height="136" fill="#787878" filter="url(#t4)"/><rect x="114" width="22" height="136" fill="#7a7a7a" filter="url(#st)"/><use href="#tax"/><rect class="fr" width="136" height="136"/><text class="tt" x="68" y="-8.8">845920</text></g>
<g transform="translate(3042.9,455.6)"><rect width="136" height="136" fill="#737373" filter="url(#t1)"/><use href="#tax"/><rect class="fr r" width="136" height="136"/><text class="tt" x="68" y="-8.8">845921</text></g>
<g transform="translate(3241.3,455.6)"><rect width="136" height="136" fill="#7d7d7d" filter="url(#t2)"/><use href="#tax"/><rect class="fr r" width="136" height="136"/><text class="tt" x="68" y="-8.8">845922</text></g>
<g transform="translate(3439.7,455.6)"><rect width="136" height="136" fill="#787878" filter="url(#t3)"/><use href="#tax"/><rect class="fr" width="136" height="136"/><text class="tt" x="68" y="-8.8">845923</text></g>
<!-- row 4 -->
<g transform="translate(1852.5,650.6)"><rect width="136" height="136" fill="#696969" filter="url(#t4)"/><use href="#tax"/><rect class="fr r" width="136" height="136"/><text class="tt" x="68" y="-8.8">845924</text></g>
<g transform="translate(2050.9,650.6)"><rect width="136" height="136" fill="#878787" filter="url(#t1)"/><use href="#tax"/><rect class="fr r" width="136" height="136"/><text class="tt" x="68" y="-8.8">845925</text></g>
<g transform="translate(2249.3,650.6)"><rect width="136" height="136" fill="#6e6e6e" filter="url(#t2)"/><use href="#tax"/><rect class="fr r" width="136" height="136"/><text class="tt" x="68" y="-8.8">845926</text></g>
<g transform="translate(2447.7,650.6)"><rect width="136" height="136" fill="#6e6e6e" filter="url(#t3)"/><use href="#tax"/><rect class="fr" width="136" height="136"/><text class="tt" x="68" y="-8.8">845927</text></g>
<g transform="translate(2646.1,650.6)"><rect width="136" height="136" fill="#828282" filter="url(#t4)"/><use href="#tax"/><rect class="fr" width="136" height="136"/><text class="tt" x="68" y="-8.8">845928</text></g>
<g transform="translate(2844.5,650.6)"><rect width="136" height="136" fill="#6e6e6e" filter="url(#t1)"/><use href="#tax"/><rect class="fr" width="136" height="136"/><text class="tt" x="68" y="-8.8">845929</text></g>
<g transform="translate(3042.9,650.6)"><rect width="136" height="136" fill="#6e6e6e" filter="url(#t2)"/><use href="#tax"/><rect class="fr" width="136" height="136"/><text class="tt" x="68" y="-8.8">845930</text></g>
<g transform="translate(3241.3,650.6)"><rect width="136" height="136" fill="#787878" filter="url(#t3)"/><use href="#tax"/><rect class="fr" width="136" height="136"/><text class="tt" x="68" y="-8.8">845931</text></g>
<g transform="translate(3439.7,650.6)"><rect width="136" height="136" fill="#646464" filter="url(#t4)"/><use href="#tax"/><rect class="fr" width="136" height="136"/><text class="tt" x="68" y="-8.8">845932</text></g>
<!-- row 5 -->
<g transform="translate(1852.5,845.6)"><rect width="136" height="136" fill="#7d7d7d" filter="url(#t1)"/><use href="#tax"/><rect class="fr r" width="136" height="136"/><text class="tt" x="68" y="-8.8">845933</text></g>
<g transform="translate(2050.9,845.6)"><rect width="136" height="136" fill="#6e6e6e" filter="url(#t2)"/><use href="#tax"/><rect class="fr" width="136" height="136"/><text class="tt" x="68" y="-8.8">845934</text></g>
<g transform="translate(2249.3,845.6)"><rect width="136" height="136" fill="#696969" filter="url(#t3)"/><use href="#tax"/><rect class="fr" width="136" height="136"/><text class="tt" x="68" y="-8.8">845935</text></g>
<g transform="translate(2447.7,845.6)"><rect width="136" height="136" fill="#969696" filter="url(#t4)"/><use href="#tax"/><rect class="fr r" width="136" height="136"/><text class="tt" x="68" y="-8.8">845936</text></g>
<g transform="translate(2646.1,845.6)"><rect width="136" height="136" fill="#737373" filter="url(#t1)"/><use href="#tax"/><rect class="fr" width="136" height="136"/><text class="tt" x="68" y="-8.8">845937</text></g>
<g transform="translate(2844.5,845.6)"><rect width="136" height="136" fill="#7d7d7d" filter="url(#t2)"/><use href="#tax"/><rect class="fr r" width="136" height="136"/><text class="tt" x="68" y="-8.8">845938</text></g>
<g transform="translate(3042.9,845.6)"><rect width="136" height="136" fill="#787878" filter="url(#t3)"/><use href="#tax"/><rect class="fr" width="136" height="136"/><text class="tt" x="68" y="-8.8">845939</text></g>
<g transform="translate(3241.3,845.6)"><rect width="136" height="136" fill="#7d7d7d" filter="url(#t4)"/><use href="#tax"/><rect class="fr r" width="136" height="136"/><text class="tt" x="68" y="-8.8">845940</text></g>
<g transform="translate(3439.7,845.6)"><rect width="136" height="136" fill="#6e6e6e" filter="url(#t1)"/><use href="#tax"/><rect class="fr" width="136" height="136"/><text class="tt" x="68" y="-8.8">845941</text></g>
<!-- row 6 -->
<g transform="translate(1852.5,1040.6)"><rect width="136" height="136" fill="#696969" filter="url(#t2)"/><use href="#tax"/><rect class="fr r" width="136" height="136"/><text class="tt" x="68" y="-8.8">845942</text></g>
<g transform="translate(2050.9,1040.6)"><rect width="136" height="136" fill="#969696" filter="url(#t3)"/><use href="#tax"/><rect class="fr" width="136" height="136"/><text class="tt" x="68" y="-8.8">845943</text></g>
<g transform="translate(2249.3,1040.6)"><rect width="136" height="136" fill="#646464" filter="url(#t4)"/><use href="#tax"/><rect class="fr r" width="136" height="136"/><text class="tt" x="68" y="-8.8">845944</text></g>
<g transform="translate(2447.7,1040.6)"><rect width="136" height="136" fill="#787878" filter="url(#t1)"/><use href="#tax"/><rect class="fr r" width="136" height="136"/><text class="tt" x="68" y="-8.8">845945</text></g>
<g transform="translate(2646.1,1040.6)"><rect width="136" height="136" fill="#6e6e6e" filter="url(#t2)"/><use href="#tax"/><rect class="fr r" width="136" height="136"/><text class="tt" x="68" y="-8.8">845946</text></g>
<g transform="translate(2844.5,1040.6)"><rect width="136" height="136" fill="#969696" filter="url(#t3)"/><use href="#tax"/><rect class="fr" width="136" height="136"/><text class="tt" x="68" y="-8.8">845947</text></g>
<g transform="translate(3042.9,1040.6)"><rect width="136" height="136" fill="#919191" filter="url(#t4)"/><use href="#tax"/><rect class="fr" width="136" height="136"/><text class="tt" x="68" y="-8.8">845948</text></g>
<g transform="translate(3241.3,1040.6)"><rect width="136" height="136" fill="#787878" filter="url(#t1)"/><use href="#tax"/><rect class="fr" width="136" height="136"/><text class="tt" x="68" y="-8.8">845949</text></g>
<g transform="translate(3439.7,1040.6)"><rect width="136" height="136" fill="#737373" filter="url(#t2)"/><use href="#tax"/><rect class="fr" width="136" height="136"/><text class="tt" x="68" y="-8.8">845950</text></g>
<!-- row 7 -->
<g transform="translate(1852.5,1235.6)"><rect width="136" height="136" fill="#5f5f5f" filter="url(#t3)"/><use href="#tax"/><rect class="fr" width="136" height="136"/><text class="tt" x="68" y="-8.8">845951</text></g>
<g transform="translate(2050.9,1235.6)"><rect width="136" height="136" fill="#7d7d7d" filter="url(#t4)"/><use href="#tax"/><rect class="fr" width="136" height="136"/><text class="tt" x="68" y="-8.8">845952</text></g>
<g transform="translate(2249.3,1235.6)"><rect width="136" height="136" fill="#646464" filter="url(#t1)"/><use href="#tax"/><rect class="fr" width="136" height="136"/><text class="tt" x="68" y="-8.8">845953</text></g>
<g transform="translate(2447.7,1235.6)"><rect width="136" height="136" fill="#737373" filter="url(#t2)"/><use href="#tax"/><rect class="fr" width="136" height="136"/><text class="tt" x="68" y="-8.8">845954</text></g>
<g transform="translate(2646.1,1235.6)"><rect width="136" height="136" fill="#828282" filter="url(#t3)"/><use href="#tax"/><rect class="fr" width="136" height="136"/><text class="tt" x="68" y="-8.8">845955</text></g>
<g transform="translate(2844.5,1235.6)"><rect width="136" height="136" fill="#737373" filter="url(#t4)"/><use href="#tax"/><rect class="fr r" width="136" height="136"/><text class="tt" x="68" y="-8.8">845956</text></g>
<g transform="translate(3042.9,1235.6)"><rect width="136" height="136" fill="#696969" filter="url(#t1)"/><use href="#tax"/><rect class="fr" width="136" height="136"/><text class="tt" x="68" y="-8.8">845957</text></g>
<g transform="translate(3241.3,1235.6)"><rect width="136" height="136" fill="#646464" filter="url(#t2)"/><use href="#tax"/><rect class="fr" width="136" height="136"/><text class="tt" x="68" y="-8.8">845958</text></g>
<g transform="translate(3439.7,1235.6)"><rect width="136" height="136" fill="#737373" filter="url(#t3)"/><use href="#tax"/><rect class="fr" width="136" height="136"/><text class="tt" x="68" y="-8.8">845959</text></g>
<!-- row 8 -->
<g transform="translate(1852.5,1430.6)"><rect width="136" height="136" fill="#787878" filter="url(#t4)"/><use href="#tax"/><rect class="fr" width="136" height="136"/><text class="tt" x="68" y="-8.8">845960</text></g>
<g transform="translate(2050.9,1430.6)"><rect width="136" height="136" fill="#737373" filter="url(#t1)"/><use href="#tax"/><rect class="fr" width="136" height="136"/><text class="tt" x="68" y="-8.8">845961</text></g>
<g transform="translate(2249.3,1430.6)"><rect width="136" height="136" fill="#828282" filter="url(#t2)"/><use href="#tax"/><rect class="fr r" width="136" height="136"/><text class="tt" x="68" y="-8.8">845962</text></g>
<g transform="translate(2447.7,1430.6)"><rect width="136" height="136" fill="#696969" filter="url(#t3)"/><use href="#tax"/><rect class="fr" width="136" height="136"/><text class="tt" x="68" y="-8.8">845963</text></g>
<g transform="translate(2646.1,1430.6)"><rect width="136" height="136" fill="#828282" filter="url(#t4)"/><use href="#tax"/><rect class="fr" width="136" height="136"/><text class="tt" x="68" y="-8.8">845964</text></g>
<g transform="translate(2844.5,1430.6)"><rect width="136" height="136" fill="#6e6e6e" filter="url(#t1)"/><use href="#tax"/><rect class="fr" width="136" height="136"/><text class="tt" x="68" y="-8.8">845965</text></g>
<g transform="translate(3042.9,1430.6)"><rect width="136" height="136" fill="#696969" filter="url(#t2)"/><use href="#tax"/><rect class="fr r" width="136" height="136"/><text class="tt" x="68" y="-8.8">845966</text></g>
<g transform="translate(3241.3,1430.6)"><rect width="136" height="136" fill="#6e6e6e" filter="url(#t3)"/><use href="#tax"/><rect class="fr" width="136" height="136"/><text class="tt" x="68" y="-8.8">845967</text></g>
<g transform="translate(3439.7,1430.6)"><rect width="136" height="136" fill="#737373" filter="url(#t4)"/><use href="#tax"/><rect class="fr" width="136" height="136"/><text class="tt" x="68" y="-8.8">845968</text></g>
<!-- row 9 -->
<g transform="translate(1852.5,1625.6)"><rect width="136" height="136" fill="#7d7d7d" filter="url(#t1)"/><use href="#tax"/><rect class="fr" width="136" height="136"/><text class="tt" x="68" y="-8.8">845969</text></g>
<g transform="translate(2050.9,1625.6)"><rect width="136" height="136" fill="#737373" filter="url(#t2)"/><use href="#tax"/><rect class="fr" width="136" height="136"/><text class="tt" x="68" y="-8.8">845970</text></g>
<g transform="translate(2249.3,1625.6)"><rect width="136" height="136" fill="#7d7d7d" filter="url(#t3)"/><use href="#tax"/><rect class="fr" width="136" height="136"/><text class="tt" x="68" y="-8.8">845971</text></g>
<g transform="translate(2447.7,1625.6)"><rect width="136" height="136" fill="#696969" filter="url(#t4)"/><use href="#tax"/><rect class="fr r" width="136" height="136"/><text class="tt" x="68" y="-8.8">845972</text></g>
<g transform="translate(2646.1,1625.6)"><rect width="136" height="136" fill="#5f5f5f" filter="url(#t1)"/><use href="#tax"/><rect class="fr" width="136" height="136"/><text class="tt" x="68" y="-8.8">845973</text></g>
<g transform="translate(2844.5,1625.6)"><rect width="136" height="136" fill="#696969" filter="url(#t2)"/><use href="#tax"/><rect class="fr r" width="136" height="136"/><text class="tt" x="68" y="-8.8">845974</text></g>
<g transform="translate(3042.9,1625.6)"><rect width="136" height="136" fill="#878787" filter="url(#t3)"/><use href="#tax"/><rect class="fr" width="136" height="136"/><text class="tt" x="68" y="-8.8">845975</text></g>
</svg>
</body></html>
